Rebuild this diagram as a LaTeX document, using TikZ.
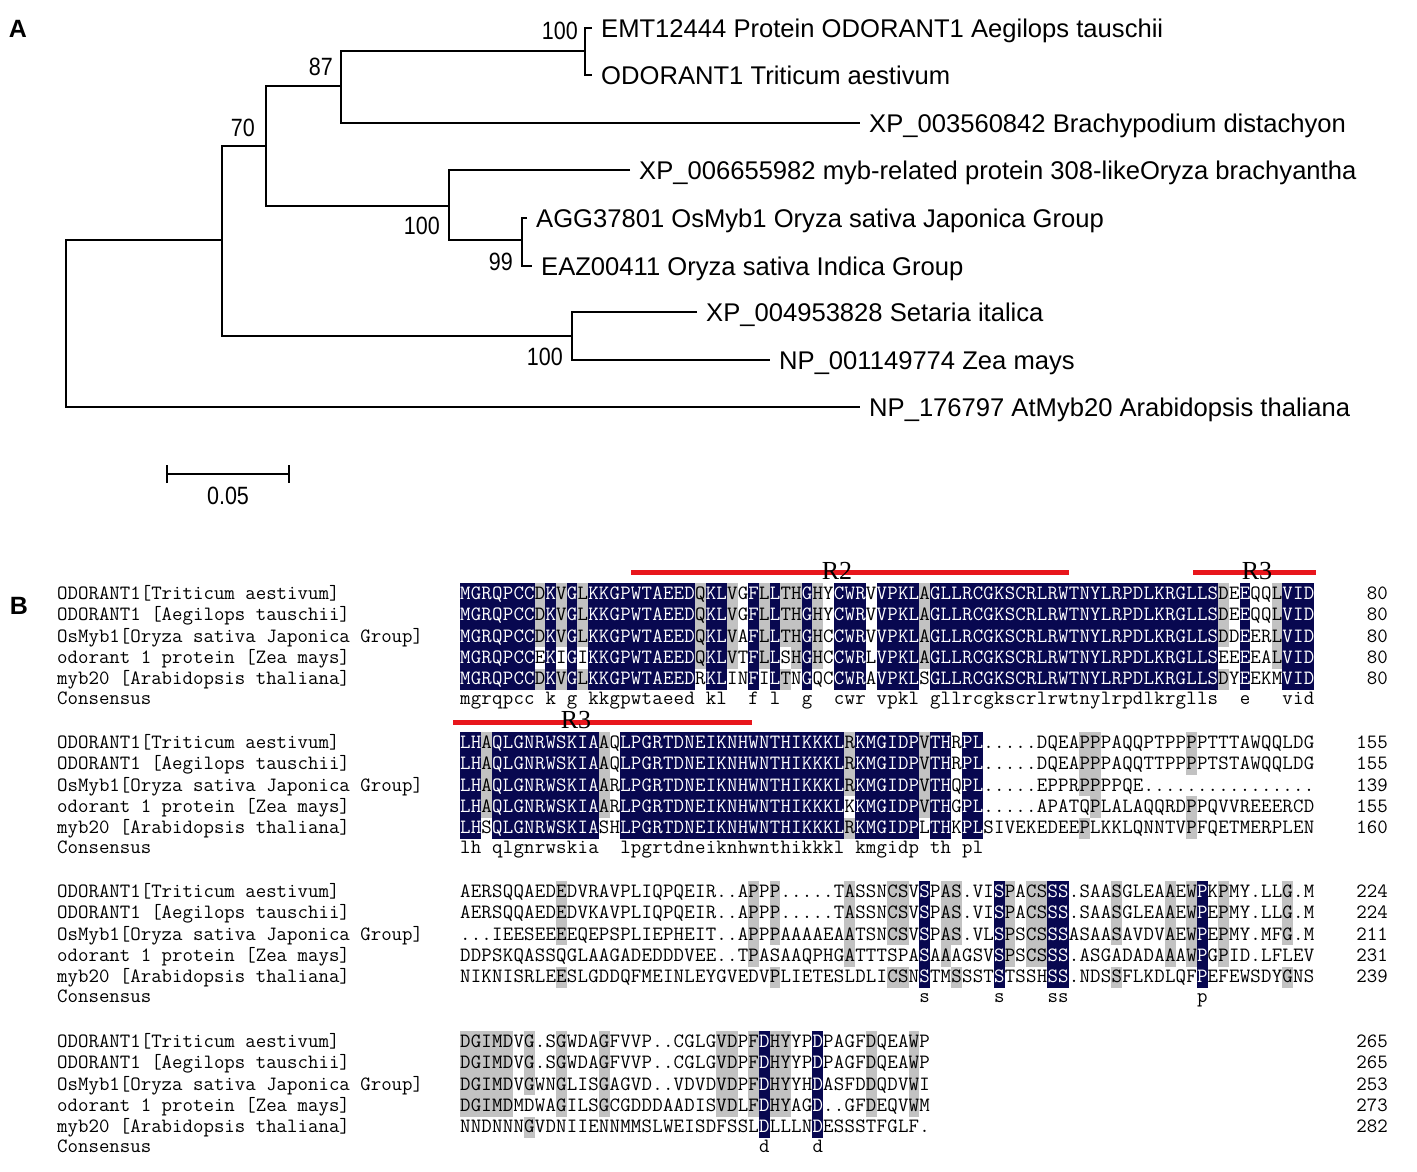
\documentclass[tikz,border=0pt]{standalone}
\usepackage{fontspec}
\setmainfont{Liberation Sans}
\newfontfamily\bootfont[FakeStretch=0.86]{Liberation Sans}
\newfontfamily\motiffont{Liberation Serif}
\usepackage{xstring}
\usetikzlibrary{arrows.meta}

\definecolor{idnavy}{RGB}{8,8,80}
\definecolor{simgray}{RGB}{194,194,194}
\definecolor{motifred}{RGB}{232,22,28}

\newcount\nmatch
\newcount\nfirst
\def\dotres{.}
\def\nores{}
\newcommand\alnseq[3]{\expandafter\def\csname seq#1#2\endcsname{#3}}

\alnseq{1}{1}{MGRQPCCDKVGLKKGPWTAEEDQKLVGFLLTHGHYCWRVVPKLAGLLRCGKSCRLRWTNYLRPDLKRGLLSDEEQQLVID}
\alnseq{1}{2}{MGRQPCCDKVGLKKGPWTAEEDQKLVGFLLTHGHYCWRVVPKLAGLLRCGKSCRLRWTNYLRPDLKRGLLSDEEQQLVID}
\alnseq{1}{3}{MGRQPCCDKVGLKKGPWTAEEDQKLVAFLLTHGHCCWRVVPKLAGLLRCGKSCRLRWTNYLRPDLKRGLLSDDEERLVID}
\alnseq{1}{4}{MGRQPCCEKIGIKKGPWTAEEDQKLVTFLLSHGHCCWRLVPKLAGLLRCGKSCRLRWTNYLRPDLKRGLLSEEEEALVID}
\alnseq{1}{5}{MGRQPCCDKVGLKKGPWTAEEDRKLINFILTNGQCCWRAVPKLSGLLRCGKSCRLRWTNYLRPDLKRGLLSDYEEKMVID}

\alnseq{2}{1}{LHAQLGNRWSKIAAQLPGRTDNEIKNHWNTHIKKKLRKMGIDPVTHRPL.....DQEAPPPAQQPTPPPPTTTAWQQLDG}
\alnseq{2}{2}{LHAQLGNRWSKIAAQLPGRTDNEIKNHWNTHIKKKLRKMGIDPVTHRPL.....DQEAPPPAQQTTPPPPTSTAWQQLDG}
\alnseq{2}{3}{LHAQLGNRWSKIAARLPGRTDNEIKNHWNTHIKKKLRKMGIDPVTHQPL.....EPPRPPPPQE................}
\alnseq{2}{4}{LHAQLGNRWSKIAARLPGRTDNEIKNHWNTHIKKKLKKMGIDPVTHGPL.....APATQPLALAQQRDPPQVVREEERCD}
\alnseq{2}{5}{LHSQLGNRWSKIASHLPGRTDNEIKNHWNTHIKKKLRKMGIDPLTHKPLSIVEKEDEEPLKKLQNNTVPFQETMERPLEN}

\alnseq{3}{1}{AERSQQAEDEDVRAVPLIQPQEIR..APPP.....TASSNCSVSPAS.VISPACSSS.SAASGLEAAEWPKPMY.LLG.M}
\alnseq{3}{2}{AERSQQAEDEDVKAVPLIQPQEIR..APPP.....TASSNCSVSPAS.VISPACSSS.SAASGLEAAEWPEPMY.LLG.M}
\alnseq{3}{3}{...IEESEEEEQEPSPLIEPHEIT..APPPAAAAEAATSNCSVSPAS.VLSPSCSSSASAASAVDVAEWPEPMY.MFG.M}
\alnseq{3}{4}{DDPSKQASSQGLAAGADEDDDVEE..TPASAAQPHGATTTSPASAAAGSVSPSCSSS.ASGADADAAAWPGPID.LFLEV}
\alnseq{3}{5}{NIKNISRLEESLGDDQFMEINLEYGVEDVPLIETESLDLICSNSTMSSSTSTSSHSS.NDSSFLKDLQFPEFEWSDYGNS}

\alnseq{4}{1}{DGIMDVG.SGWDAGFVVP..CGLGVDPFDHYYPDPAGFDQEAWP}
\alnseq{4}{2}{DGIMDVG.SGWDAGFVVP..CGLGVDPFDHYYPDPAGFDQEAWP}
\alnseq{4}{3}{DGIMDVGWNGLISGAGVD..VDVDVDPFDHYYHDASFDDQDVWI}
\alnseq{4}{4}{DGIMDMDWAGILSGCGDDDAADISVDLFDHYAGD..GFDEQVWM}
\alnseq{4}{5}{NNDNNNGVDNIIENNMMSLWEISDFSSLDLLLNDESSSTFGLF.}

\begin{document}
\begin{tikzpicture}[x=1pt, y=-1pt,
    branch/.style={line width=1.6pt},
    leaf/.style={anchor=west, inner xsep=9pt, inner ysep=0pt, text height=18.3pt, text depth=0pt, font=\fontsize{25.6}{26}\selectfont},
    boot/.style={inner sep=0pt, font=\bootfont\fontsize{25}{25}\selectfont},
    panel/.style={inner sep=0pt, font=\bfseries\fontsize{25}{25}\selectfont},
    res/.style={anchor=base, inner sep=0pt, font=\ttfamily\fontsize{20.3}{20}\selectfont},
    seqname/.style={anchor=base west, inner sep=0pt, font=\ttfamily\fontsize{20.3}{20}\selectfont},
    seqend/.style={anchor=base east, inner sep=0pt, font=\ttfamily\fontsize{20.3}{20}\selectfont},
    motif/.style={motifred, line width=5pt},
    motiflabel/.style={inner sep=0pt, font=\motiffont\fontsize{26}{26}\selectfont}]
\useasboundingbox (0,0) rectangle (1417,1172);

\node[panel] (pa) at (18,29) {A};
\node[panel] (pb) at (19,606) {B};

\coordinate (root) at (66,324);
\coordinate (grass) at (222,240);
\coordinate (bep) at (266,146);
\coordinate (pooid) at (341,86);
\coordinate (tri) at (585,51);
\coordinate (oryza) at (449,206);
\coordinate (sativa) at (522,240);
\coordinate (panic) at (572,336);

\node[leaf] (emt) at (592,28) {EMT12444 Protein ODORANT1 Aegilops tauschii};
\node[leaf] (odo) at (592,75) {ODORANT1 Triticum aestivum};
\node[leaf] (brachy) at (860,123) {XP\_003560842 Brachypodium distachyon};
\node[leaf] (xpor) at (630,170) {XP\_006655982 myb-related protein 308-likeOryza brachyantha};
\node[leaf] (agg) at (527,218) {AGG37801 OsMyb1 Oryza sativa Japonica Group};
\node[leaf] (eaz) at (532,266) {EAZ00411 Oryza sativa Indica Group};
\node[leaf] (setaria) at (697,312) {XP\_004953828 Setaria italica};
\node[leaf] (zea) at (770,360) {NP\_001149774 Zea mays};
\node[leaf] (arab) at (860,407) {NP\_176797 AtMyb20 Arabidopsis thaliana};

\draw[branch] (emt.west) -| (tri) |- (odo.west);
\draw[branch] (tri) -| (pooid) |- (brachy.west);
\draw[branch] (pooid) -| (bep) |- (oryza);
\draw[branch] (xpor.west) -| (oryza) |- (sativa);
\draw[branch] (agg.west) -| (sativa) |- (eaz.west);
\draw[branch] (bep) -| (grass) |- (panic);
\draw[branch] (setaria.west) -| (panic) |- (zea.west);
\draw[branch] (grass) -| (root) |- (arab.west);

\node[boot, anchor=south east] (btri) at ([shift={(-7,-11)}]tri) {100};
\node[boot, anchor=south east] (bpooid) at ([shift={(-8,-10)}]pooid) {87};
\node[boot, anchor=south east] (bbep) at ([shift={(-11,-9)}]bep) {70};
\node[boot, anchor=north east] (boryza) at ([shift={(-9,11)}]oryza) {100};
\node[boot, anchor=north east] (bsativa) at ([shift={(-9,13)}]sativa) {99};
\node[boot, anchor=north east] (bpanic) at ([shift={(-9,12)}]panic) {100};

\coordinate (sbl) at (166,474);
\coordinate (sbr) at (290,474);
\draw[branch, {Bar[width=18pt]}-{Bar[width=18pt]}] (sbl) -- (sbr);
\node[boot, anchor=north] (sblabel) at (228,487) {0.05};

\draw[motif] (631,572) -- (1069,572);
\draw[motif] (1193,572) -- (1316,572);
\draw[motif] (453,722) -- (752,722);
\node[motiflabel] (rtwo) at (837,571) {R2};
\node[motiflabel] (rthreea) at (1257,571) {R3};
\node[motiflabel] (rthreeb) at (576,720) {R3};

\foreach \blk/\btop/\na/\nb/\nc/\nd/\ne in {1/583/80/80/80/80/80, 2/732/155/155/139/155/160, 3/881/224/224/211/231/239, 4/1031/265/265/253/273/282}{
  \foreach \row/\who/\rlen in {1/{ODORANT1[Triticum aestivum]}/\na, 2/{ODORANT1 [Aegilops tauschii]}/\nb, 3/{OsMyb1[Oryza sativa Japonica Group]}/\nc, 4/{odorant 1 protein [Zea mays]}/\nd, 5/{myb20 [Arabidopsis thaliana]}/\ne}{
    \node[seqname] (name\blk-\row) at (57,{\btop+21.4*(\row-1)+16.3}) {\who};
    \node[seqend] (len\blk-\row) at (1388,{\btop+21.4*(\row-1)+16.3}) {\rlen};
  }
  \node[seqname] (cons\blk) at (57,\btop+121) {Consensus};
  \foreach \col in {1,...,80}{
    \foreach \row in {1,...,5}{
      \StrChar{\csname seq\blk\row\endcsname}{\col}[\tmpres]
      \expandafter\xdef\csname res\row\endcsname{\tmpres}
    }
    \foreach \row in {1,...,5}{
      \global\nmatch=0
      \foreach \oth in {1,...,5}{
        \expandafter\ifx\csname res\row\expandafter\endcsname\csname res\oth\endcsname
          \global\advance\nmatch by 1
        \fi
      }
      \expandafter\ifx\csname res\row\endcsname\dotres \global\nmatch=0 \fi
      \expandafter\ifx\csname res\row\endcsname\nores \global\nmatch=-1 \fi
      \ifnum\row=1 \global\nfirst=\nmatch \fi
      \def\txtcol{black}
      \ifnum\nmatch>3
        \ifnum\nmatch=5 \def\cellcol{idnavy}\def\txtcol{white}\else\def\cellcol{simgray}\fi
        \fill[fill=\cellcol] ({460+10.68*(\col-1)},{\btop+21.4*(\row-1)}) rectangle ++(10.68,21.4);
      \fi
      \ifnum\nmatch>-1
        \node[res, text=\txtcol] (r\blk-\row-\col) at ({465.34+10.68*(\col-1)},{\btop+21.4*(\row-1)+16.3}) {\csname res\row\endcsname};
      \fi
    }
    \ifnum\nfirst=5
      \node[res] (c\blk-\col) at ({465.34+10.68*(\col-1)},\btop+121) {\MakeLowercase{\csname res1\endcsname}};
    \fi
  }
}
\end{tikzpicture}
\end{document}
